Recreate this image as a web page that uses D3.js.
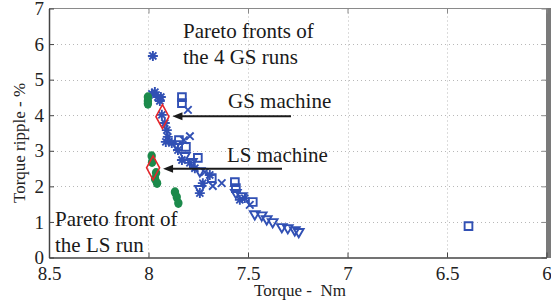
<!DOCTYPE html>
<html>
<head>
<meta charset="utf-8">
<script src="https://d3js.org/d3.v7.min.js"></script>
<style>
  html, body { margin: 0; padding: 0; background: #fff; }
  svg { display: block; font-family: "Liberation Serif", "Times New Roman", serif; }
</style>
</head>
<body>
<div id="chart"></div>
<script>
// axis ticks
var xTicks = [8.5, 8, 7.5, 7, 6.5, 6];
var yTicks = [0, 1, 2, 3, 4, 5, 6, 7];

// GS run 1 (asterisk)
var gs1Torque = [7.978, 7.983, 7.968, 7.953, 7.938, 7.943, 7.933, 7.918, 7.908, 7.903, 7.913, 7.883, 7.852, 7.832, 7.792, 7.767, 7.742, 7.727, 7.692, 7.541, 7.516];
var gs1Ripple = [5.665, 4.60, 4.65, 4.51, 4.51, 4.40, 4.01, 3.78, 3.58, 3.39, 3.25, 3.22, 3.02, 2.74, 2.66, 2.51, 1.81, 2.09, 2.32, 1.62, 1.67];
// GS run 2 (cross)
var gs2Torque = [7.802, 7.792, 7.822, 7.717, 7.677, 7.632, 7.491];
var gs2Ripple = [4.15, 3.41, 3.30, 2.40, 2.01, 2.09, 1.48];
// GS run 3 (square)
var gs3Torque = [7.832, 7.832, 7.847, 7.812, 7.752, 7.682, 7.566, 7.561, 7.476, 6.392];
var gs3Ripple = [4.51, 4.34, 3.30, 3.11, 2.80, 2.23, 2.12, 1.95, 1.56, 0.88];
// GS run 4 (triangle)
var gs4Torque = [7.862, 7.817, 7.782, 7.742, 7.742, 7.561, 7.531, 7.466, 7.431, 7.406, 7.376, 7.330, 7.300, 7.265, 7.245];
var gs4Ripple = [3.16, 2.83, 2.66, 2.40, 1.90, 1.79, 1.70, 1.19, 1.16, 1.05, 0.97, 0.83, 0.80, 0.74, 0.69];
// LS run
var lsTorque = [8.003, 8.003, 8.003, 7.984, 7.982, 7.962, 7.967, 7.957, 7.867, 7.858, 7.850];
var lsRipple = [4.51, 4.40, 4.32, 2.85, 2.68, 2.38, 2.21, 2.09, 1.84, 1.70, 1.53];
// chosen machines
var machineNames = ["GS machine", "LS machine"];
var machineTorque = [7.930, 7.977];
var machineRipple = [3.96, 2.52];

var width = 551, height = 305;
var pLeft = 49, pRight = 546.5, pTop = 8.5, pBottom = 257.5;
var blue = "#3150b4", green = "#1c8a4b", red = "#e4262b";

var svg = d3.select("#chart").append("svg").attr("width", width).attr("height", height);

var x = d3.scaleLinear().domain([8.5, 6]).range([pLeft, pRight]);
var y = d3.scaleLinear().domain([0, 7]).range([pBottom, pTop]);

// grid
var grid = svg.append("g").attr("stroke", "#b8b8b8").attr("stroke-width", 1).attr("stroke-dasharray", "1,3");
grid.selectAll(".gx").data(xTicks.slice(1, -1)).enter().append("line")
  .attr("x1", function (d) { return Math.round(x(d)) + 0.5; })
  .attr("x2", function (d) { return Math.round(x(d)) + 0.5; })
  .attr("y1", pTop).attr("y2", pBottom);
grid.selectAll(".gy").data(yTicks.slice(1, -1)).enter().append("line")
  .attr("y1", function (d) { return Math.round(y(d)) + 0.5; })
  .attr("y2", function (d) { return Math.round(y(d)) + 0.5; })
  .attr("x1", pLeft).attr("x2", pRight);

// top and right frame
svg.append("line").attr("x1", pLeft).attr("x2", pRight).attr("y1", pTop).attr("y2", pTop)
  .attr("stroke", "#8a8a8a").attr("stroke-width", 1.2);
svg.append("rect").attr("x", pRight - 0.5).attr("y", pTop - 0.5).attr("width", width - pRight + 1).attr("height", pBottom - pTop + 1)
  .attr("fill", "#7a7a7a");

// top / right inward ticks
svg.append("g").attr("transform", "translate(0," + pTop + ")")
  .call(d3.axisTop(x).tickValues(xTicks).tickSize(-5).tickFormat(""))
  .call(function (g) { g.select(".domain").remove(); g.selectAll("line").attr("stroke", "#888"); });
svg.append("g").attr("transform", "translate(" + pRight + ",0)")
  .call(d3.axisRight(y).tickValues(yTicks).tickSize(-5).tickFormat(""))
  .call(function (g) { g.select(".domain").remove(); g.selectAll("line").attr("stroke", "#888"); });

// left / bottom axes
var ax = svg.append("g").attr("transform", "translate(0," + pBottom + ")")
  .call(d3.axisBottom(x).tickValues(xTicks).tickSizeInner(-5).tickSizeOuter(0).tickPadding(9).tickFormat(d3.format("")));
var ay = svg.append("g").attr("transform", "translate(" + pLeft + ",0)")
  .call(d3.axisLeft(y).tickValues(yTicks).tickSizeInner(-5).tickSizeOuter(0).tickPadding(5).tickFormat(d3.format("d")));
[ax, ay].forEach(function (g) {
  g.select(".domain").attr("stroke", "#444").attr("stroke-width", 1.5);
  g.selectAll(".tick line").attr("stroke", "#444");
  g.selectAll("text").attr("font-family", "Liberation Serif, Times New Roman, serif").attr("font-size", 19).attr("fill", "#222");
});

// axis titles
svg.append("text").attr("x", 300).attr("y", 296).attr("text-anchor", "middle")
  .attr("font-size", 17).attr("fill", "#222").attr("xml:space", "preserve").text("Torque -  Nm");
svg.append("text").attr("transform", "translate(25,143) rotate(-90)").attr("text-anchor", "middle")
  .attr("font-size", 17).attr("fill", "#222").text("Torque ripple - %");

// markers
var asterisk = {
  draw: function (ctx, size) {
    var r = Math.sqrt(size) / 2, d = r * 0.7071;
    ctx.moveTo(-r, 0); ctx.lineTo(r, 0);
    ctx.moveTo(0, -r); ctx.lineTo(0, r);
    ctx.moveTo(-d, -d); ctx.lineTo(d, d);
    ctx.moveTo(-d, d); ctx.lineTo(d, -d);
  }
};
var cross = {
  draw: function (ctx, size) {
    var r = Math.sqrt(size) / 2;
    ctx.moveTo(-r, -r); ctx.lineTo(r, r);
    ctx.moveTo(-r, r); ctx.lineTo(r, -r);
  }
};
var square = {
  draw: function (ctx, size) {
    var r = Math.sqrt(size) / 2;
    ctx.rect(-r, -r, 2 * r, 2 * r);
  }
};
var triDown = {
  draw: function (ctx, size) {
    var r = Math.sqrt(size) / 2;
    ctx.moveTo(-r, -r * 0.8); ctx.lineTo(r, -r * 0.8); ctx.lineTo(0, r * 0.9); ctx.closePath();
  }
};

var runs = [
  { t: gs1Torque, r: gs1Ripple, type: asterisk, size: 100 },
  { t: gs2Torque, r: gs2Ripple, type: cross, size: 56 },
  { t: gs3Torque, r: gs3Ripple, type: square, size: 60 },
  { t: gs4Torque, r: gs4Ripple, type: triDown, size: 95 }
];
runs.forEach(function (run) {
  svg.append("g").selectAll("path").data(run.t).enter().append("path")
    .attr("transform", function (d, i) { return "translate(" + x(d) + "," + y(run.r[i]) + ")"; })
    .attr("d", d3.symbol().type(run.type).size(run.size))
    .attr("fill", "none").attr("stroke", blue).attr("stroke-width", 1.9);
});

// LS run
svg.append("g").selectAll("ellipse").data(lsTorque).enter().append("ellipse")
  .attr("cx", function (d) { return x(d); })
  .attr("cy", function (d, i) { return y(lsRipple[i]); })
  .attr("rx", 4.2).attr("ry", 4.8)
  .attr("fill", green);

// chosen machines (diamonds)
svg.append("g").selectAll("path").data(machineTorque).enter().append("path")
  .attr("transform", function (d, i) { return "translate(" + x(d) + "," + y(machineRipple[i]) + ")"; })
  .attr("d", "M0,-12L6.5,0L0,12L-6.5,0Z")
  .attr("fill", "none").attr("stroke", red).attr("stroke-width", 1.6);

// arrows
var arrowEnds = [291, 282];
var arrowTips = [x(machineTorque[0]) + 10, x(machineTorque[1]) + 10];
machineTorque.forEach(function (d, i) {
  var yy = y(machineRipple[i]) + (i === 0 ? -0.5 : 1);
  svg.append("line").attr("x1", arrowTips[i] + 8).attr("x2", arrowEnds[i])
    .attr("y1", yy).attr("y2", yy).attr("stroke", "#1a1a1a").attr("stroke-width", 2);
  svg.append("path")
    .attr("d", "M" + arrowTips[i] + "," + yy + "L" + (arrowTips[i] + 10) + "," + (yy - 4) + "L" + (arrowTips[i] + 10) + "," + (yy + 4) + "Z")
    .attr("fill", "#1a1a1a");
});

// annotation texts
var notes = [
  { x: 183, y: 38, s: "Pareto fronts of" },
  { x: 183, y: 64, s: "the 4 GS runs" },
  { x: 228, y: 108, s: machineNames[0] },
  { x: 227, y: 161.5, s: machineNames[1] },
  { x: 55, y: 226, s: "Pareto front of" },
  { x: 55, y: 251.5, s: "the LS run" }
];
svg.append("g").selectAll("text").data(notes).enter().append("text")
  .attr("x", function (d) { return d.x; })
  .attr("y", function (d) { return d.y; })
  .attr("font-size", 21).attr("fill", "#1a1a1a")
  .text(function (d) { return d.s; });
</script>
</body>
</html>
